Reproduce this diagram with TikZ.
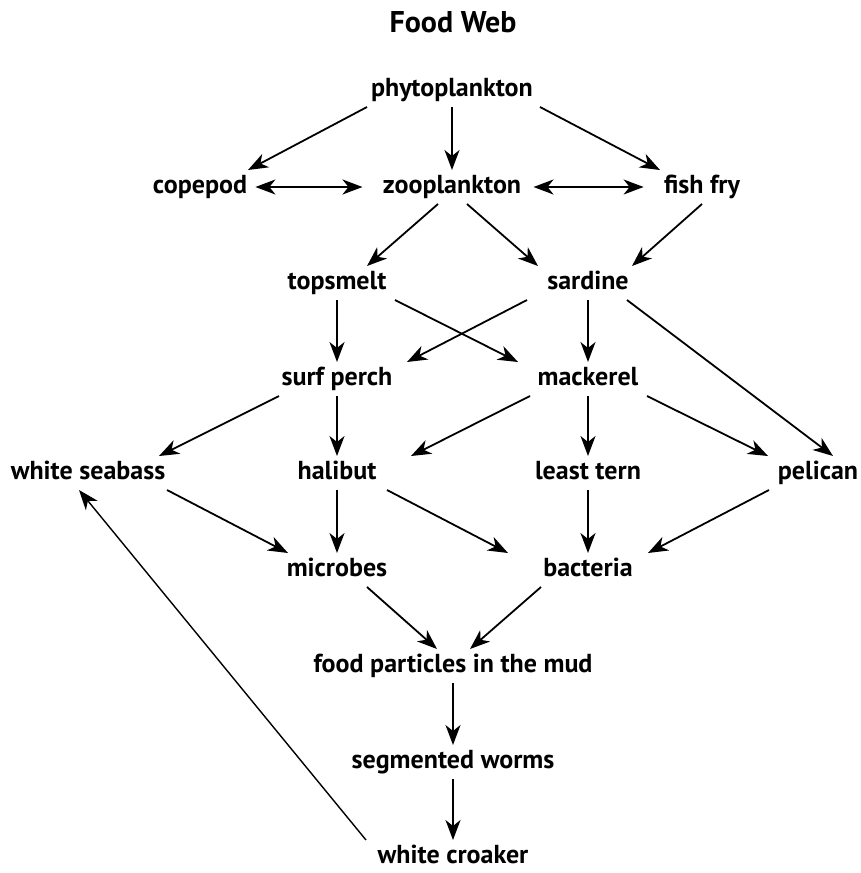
\documentclass[tikz,border=0pt]{standalone}
\usepackage{fontspec}
\setmainfont{PT Sans}
\usetikzlibrary{arrows.meta, calc}
\tikzset{
  species/.style={
    font=\fontsize{13}{15}\selectfont\bfseries,
    inner xsep=0pt, inner ysep=2.5pt,
    text height=9pt, text depth=2.6pt
  },
  diagramtitle/.style={
    font=\fontsize{15}{17}\selectfont\bfseries, inner sep=0pt
  },
  eatsarrow/.style={
    -{Stealth[length=10pt,width=7.5pt,inset=3pt]},
    draw=black, line width=0.9pt
  },
  bidiarrow/.style={
    {Stealth[length=10pt,width=7.5pt,inset=3pt]}-{Stealth[length=10pt,width=7.5pt,inset=3pt]},
    draw=black, line width=0.9pt
  },
}

\begin{document}
\begin{tikzpicture}[x=0.5pt, y=-0.5pt]

  \useasboundingbox (0,0) rectangle (861,873);

  \node[diagramtitle] (title) at (453,22) {Food Web};

  %% Producers and grazers
  \node[species] (phyto)   at (452,90)  {phytoplankton};
  \node[species] (copepod) at (200,187) {copepod};
  \node[species] (zoo)     at (452,187) {zooplankton};
  \node[species] (fry)     at (702,187) {fish fry};

  %% Small fish
  \node[species] (smelt)   at (337,283) {topsmelt};
  \node[species] (sardine) at (588,283) {sardine};
  \node[species] (perch)   at (337,379) {surf perch};
  \node[species] (mackerel) at (588,379) {mackerel};

  %% Predators
  \node[species] (seabass) at (88,473)  {white seabass};
  \node[species] (halibut) at (337,473) {halibut};
  \node[species] (tern)    at (588,473) {least tern};
  \node[species] (pelican) at (818,473) {pelican};

  %% Decomposers and bottom
  \node[species] (microbes) at (337,570) {microbes};
  \node[species] (bacteria) at (588,570) {bacteria};
  \node[species] (mud)      at (453,666) {food particles in the mud};
  \node[species] (worms)    at (453,762) {segmented worms};
  \node[species] (croaker)  at (453,857) {white croaker};

  %% Row 1 -> row 2
  \draw[eatsarrow] ($(phyto.south)+(-85,0)$) -- ($(copepod.north)+(48,0)$);
  \draw[eatsarrow] (phyto.south) -- (zoo.north);
  \draw[eatsarrow] ($(phyto.south)+(88,0)$) -- ($(fry.north)+(-42,0)$);
  \draw[bidiarrow, shorten <=4pt, shorten >=10pt] (copepod) -- (zoo);
  \draw[bidiarrow, shorten <=6pt, shorten >=10pt] (zoo) -- (fry);

  %% Row 2 -> row 3
  \draw[eatsarrow] ($(zoo.south)+(-14,0)$) -- ($(smelt.north)+(30,0)$);
  \draw[eatsarrow] ($(zoo.south)+(15,0)$) -- ($(sardine.north)+(-50,0)$);
  \draw[eatsarrow] (fry.south) -- ($(sardine.north)+(44,0)$);

  %% Row 3 -> row 4
  \draw[eatsarrow] (smelt.south) -- (perch.north);
  \draw[eatsarrow] ($(smelt.south)+(58,0)$) -- ($(mackerel.north)+(-70,0)$);
  \draw[eatsarrow] ($(sardine.south)+(-61,0)$) -- ($(perch.north)+(70,0)$);
  \draw[eatsarrow] (sardine.south) -- (mackerel.north);
  \draw[eatsarrow] ($(sardine.south)+(39,0)$) -- ($(pelican.north)+(15,0)$);

  %% Row 4 -> row 5
  \draw[eatsarrow] ($(perch.south)+(-58,0)$) -- ($(seabass.north)+(71,0)$);
  \draw[eatsarrow] (perch.south) -- (halibut.north);
  \draw[eatsarrow] ($(mackerel.south)+(-58,0)$) -- ($(halibut.north)+(74,0)$);
  \draw[eatsarrow] (mackerel.south) -- (tern.north);
  \draw[eatsarrow] ($(mackerel.south)+(59,0)$) -- ($(pelican.north)+(-50,0)$);

  %% Row 5 -> row 6
  \draw[eatsarrow] ($(seabass.south)+(79,0)$) -- ($(microbes.north)+(-49,0)$);
  \draw[eatsarrow] (halibut.south) -- (microbes.north);
  \draw[eatsarrow] ($(halibut.south)+(50,0)$) -- ($(bacteria.north)+(-80,0)$);
  \draw[eatsarrow] (tern.south) -- (bacteria.north);
  \draw[eatsarrow] ($(pelican.south)+(-49,0)$) -- ($(bacteria.north)+(60,0)$);

  %% Down to the mud
  \draw[eatsarrow] ($(microbes.south)+(30,0)$) -- ($(mud.north)+(-16,0)$);
  \draw[eatsarrow] ($(bacteria.south)+(-47,0)$) -- ($(mud.north)+(17,0)$);
  \draw[eatsarrow] (mud.south) -- (worms.north);
  \draw[eatsarrow] (worms.south) -- (croaker.north);

  %% Croaker feeds the seabass
  \draw[eatsarrow, line width=0.7pt] ($(croaker.north)+(-87,0)$) -- ($(seabass.south)+(-9,0)$);

\end{tikzpicture}
\end{document}
